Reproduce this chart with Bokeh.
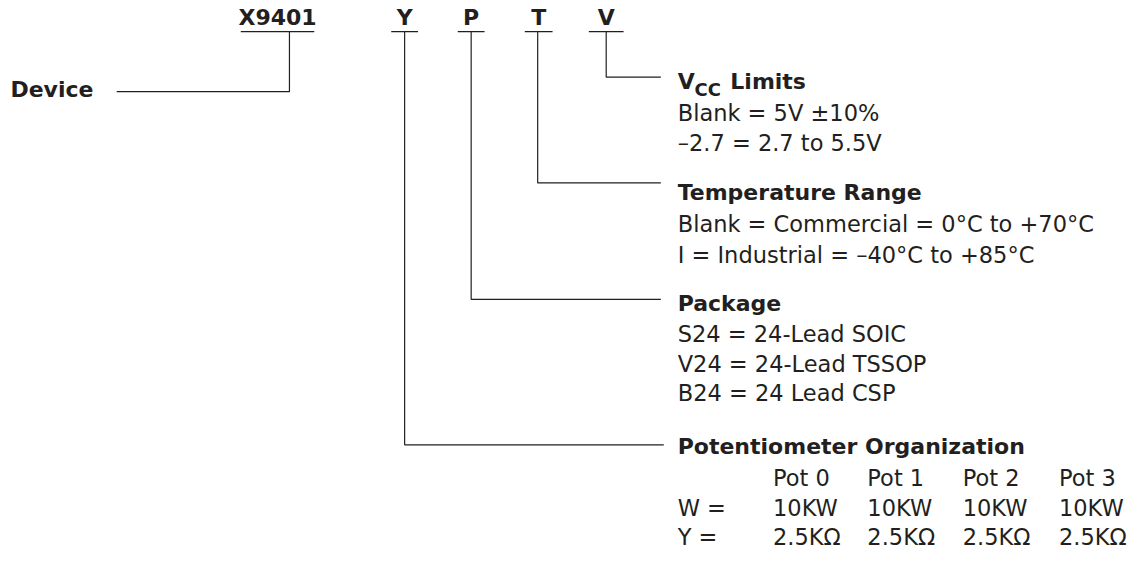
from bokeh.plotting import figure
from bokeh.models import Range1d
from bokeh.embed import file_html
from bokeh.resources import INLINE
from bokeh.core.properties import value

# ---- content ----
code_fields = ["X9401", "Y", "P", "T", "V"]
device_label = "Device"
vcc_heading_main = "V"
vcc_heading_sub = "CC"
vcc_heading_rest = "Limits"
vcc_options = ["Blank = 5V ±10%", "–2.7 = 2.7 to 5.5V"]
temp_heading = "Temperature Range"
temp_options = ["Blank = Commercial = 0°C to +70°C", "I = Industrial = –40°C to +85°C"]
package_heading = "Package"
package_options = ["S24 = 24-Lead SOIC", "V24 = 24-Lead TSSOP", "B24 = 24 Lead CSP"]
pot_heading = "Potentiometer Organization"
pot_columns = ["Pot 0", "Pot 1", "Pot 2", "Pot 3"]
pot_row_labels = ["W =", "Y ="]
pot_values_w = ["10KW", "10KW", "10KW", "10KW"]
pot_values_y = ["2.5KΩ", "2.5KΩ", "2.5KΩ", "2.5KΩ"]

# ---- layout (pixel-like coordinates, y downward) ----
INK = "#231f20"
FONT = value("DejaVu Sans")
W, H = 1127, 553

p = figure(width=W, height=H, output_backend="svg", toolbar_location=None,
           x_range=Range1d(0, 1135), y_range=Range1d(570, 0),
           min_border=0, min_border_left=0, min_border_right=0,
           min_border_top=0, min_border_bottom=0)
p.axis.visible = False
p.grid.visible = False
p.outline_line_color = None
p.background_fill_color = "white"
p.border_fill_color = "white"

# text y is given at the cap middle (baseline minus half cap height)
CAP_MID = 8

code_cx = [279, 407, 474, 542, 610]
code_half = [37, 13.5, 13.5, 14, 17.5]
code_stem = [291, 407, 474, 541, 610]
underline_y = 32
code_base = 26

# code field labels
p.text(x=code_cx, y=[code_base - CAP_MID] * 5, text=code_fields, text_font=FONT,
       text_font_style="bold", text_font_size="22px", text_align="center",
       text_baseline="alphabetic", text_color=INK)
# underlines
p.segment(x0=[c - h for c, h in zip(code_cx, code_half)], y0=[underline_y] * 5,
          x1=[c + h for c, h in zip(code_cx, code_half)], y1=[underline_y] * 5,
          line_color=INK, line_width=1.2)

# leader lines
text_x = 682
leader_end = [117, 668, 665, 665, 665]
leader_y = [94, 458, 308, 188, 79]
xs, ys = [], []
for sx, ly, ex in zip(code_stem, leader_y, leader_end):
    xs.append([sx, sx, ex])
    ys.append([underline_y, ly, ly])
p.multi_line(xs=xs, ys=ys, line_color=INK, line_width=1.2)


def bold(x, y, t, size="22px", mid=CAP_MID):
    p.text(x=[x], y=[y - mid], text=[t], text_font=FONT, text_font_style="bold",
           text_font_size=size, text_baseline="alphabetic", text_color=INK)


def regular(xlist, ylist, tlist):
    p.text(x=xlist, y=[v - CAP_MID for v in ylist], text=tlist, text_font=FONT,
           text_font_style="normal", text_font_size="22.5px",
           text_baseline="alphabetic", text_color=INK)


# Device label
bold(10, 100, device_label)

# VCC Limits
bold(text_x, 92, vcc_heading_main)
bold(text_x + 17, 98, vcc_heading_sub, size="18px", mid=6.5)
bold(735, 92, vcc_heading_rest)
regular([text_x] * len(vcc_options), [124 + i * 31 for i in range(len(vcc_options))], vcc_options)

# Temperature
bold(text_x, 206, temp_heading)
regular([text_x] * len(temp_options), [238 + i * 32.5 for i in range(len(temp_options))], temp_options)

# Package
bold(text_x, 320, package_heading)
regular([text_x] * len(package_options), [352 + i * 30.5 for i in range(len(package_options))], package_options)

# Potentiometer organization
bold(text_x, 468, pot_heading)
col_x = [778, 873, 969, 1066]
regular(col_x, [500] * 4, pot_columns)
regular([text_x, text_x], [531, 561], pot_row_labels)
regular(col_x, [531] * 4, pot_values_w)
regular(col_x, [561] * 4, pot_values_y)

open("out.html", "w").write(file_html(p, INLINE))
